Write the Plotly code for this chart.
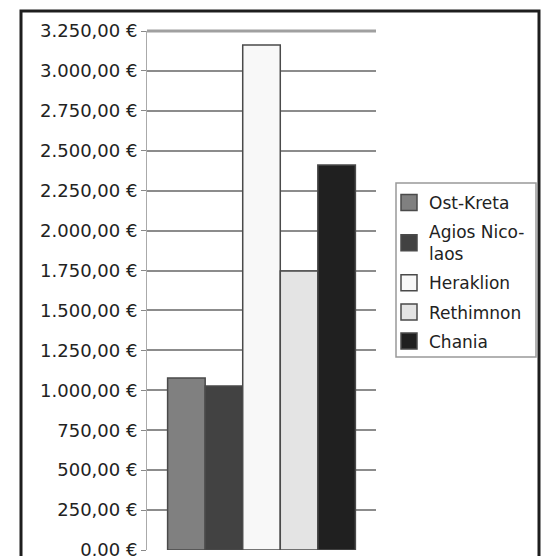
import plotly.graph_objects as go

regions = ["Ost-Kreta", "Agios Nico-<br>laos", "Heraklion", "Rethimnon", "Chania"]
values = [1077, 1027, 3163, 1747, 2411]
colors = ["#808080", "#424242", "#f8f8f8", "#e4e4e4", "#202020"]
tick_vals = [0, 250, 500, 750, 1000, 1250, 1500, 1750, 2000, 2250, 2500, 2750, 3000, 3250]


def de_money(v):
    s = f"{v:,.2f}".replace(",", "X").replace(".", ",").replace("X", ".")
    return s + " €"


tick_text = [de_money(v) for v in tick_vals]

W, H = 550, 556
L, R, T, B = 147, 174, 31, 6
pw, ph = W - L - R, H - T - B

fig = go.Figure()
for i, (name, v, c) in enumerate(zip(regions, values, colors)):
    fig.add_trace(go.Bar(
        x=[""], y=[v], name=name, legendgroup=str(i), showlegend=False,
        marker=dict(color=c, line=dict(color="#4a4a4a", width=1.5)),
    ))
for i, (name, c) in enumerate(zip(regions, colors)):
    fig.add_trace(go.Scatter(
        x=[None], y=[None], name=name, legendgroup=str(i), mode="markers",
        marker=dict(symbol="square", size=16, color=c, line=dict(color="#4a4a4a", width=1.5)),
    ))


def px_x(x):
    return (x - L) / pw


def px_y(y):
    return (H - B - y) / ph


fig.update_layout(
    width=W, height=H,
    margin=dict(l=L, r=R, t=T, b=B, pad=0, autoexpand=False),
    paper_bgcolor="white", plot_bgcolor="white",
    barmode="group", bargap=0.18, bargroupgap=0,
    font=dict(family="DejaVu Sans", color="#222"),
    showlegend=True,
    legend=dict(
        x=px_x(389), y=px_y(185), xanchor="left", yanchor="top",
        borderwidth=0, bgcolor="rgba(0,0,0,0)",
        font=dict(size=17, family="DejaVu Sans", color="#222"),
        traceorder="grouped", tracegroupgap=4,
        itemwidth=30, itemsizing="trace",
    ),
    xaxis=dict(showticklabels=False, showgrid=False, zeroline=False, showline=False, ticks="",
               automargin=False),
    yaxis=dict(
        range=[0, 3250], tickvals=tick_vals, ticktext=tick_text,
        ticklabeloverflow="allow", automargin=False,
        showgrid=True, gridcolor="#8c8c8c", gridwidth=2,
        zeroline=False, showline=True, linecolor="#aaa", linewidth=1,
        ticks="outside", ticklen=5, tickcolor="#888",
        tickfont=dict(size=18, family="DejaVu Sans", color="#222"),
    ),
    shapes=[
        dict(type="line", xref="paper", yref="paper", x0=0, x1=1, y0=1, y1=1,
             line=dict(color="#a0a0a0", width=3), layer="below"),
        dict(type="rect", xref="paper", yref="paper",
             x0=px_x(396), x1=px_x(536), y0=px_y(357), y1=px_y(183),
             line=dict(color="#999", width=1.5), fillcolor="rgba(0,0,0,0)", layer="below"),
        dict(type="rect", xref="paper", yref="paper",
             x0=px_x(21), x1=px_x(539), y0=px_y(600), y1=px_y(11),
             line=dict(color="#1e1e1e", width=3), fillcolor="rgba(0,0,0,0)"),
    ],
)

fig.write_html("out.html")
